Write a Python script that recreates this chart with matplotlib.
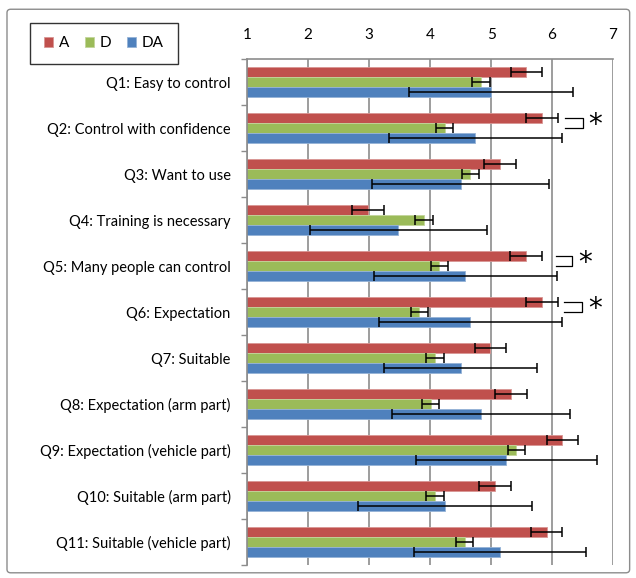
import numpy as np
import matplotlib.pyplot as plt
from matplotlib.patches import FancyBboxPatch

plt.rcParams['font.family'] = ['Lato', 'DejaVu Sans']

# Questionnaire items (top to bottom)
questions = [
    "Q1: Easy to control",
    "Q2: Control with confidence",
    "Q3: Want to use",
    "Q4: Training is necessary",
    "Q5: Many people can control",
    "Q6: Expectation",
    "Q7: Suitable",
    "Q8: Expectation (arm part)",
    "Q9: Expectation (vehicle part)",
    "Q10: Suitable (arm part)",
    "Q11: Suitable (vehicle part)",
]

# Mean scores
a_mean = [5.58, 5.83, 5.15, 2.98, 5.57, 5.83, 4.99, 5.33, 6.17, 5.07, 5.91]
d_mean = [4.84, 4.24, 4.66, 3.90, 4.15, 3.82, 4.08, 4.01, 5.41, 4.08, 4.57]
da_mean = [5.00, 4.74, 4.50, 3.48, 4.58, 4.66, 4.50, 4.84, 5.25, 4.24, 5.15]

# Error bar half-widths
a_err = [0.26, 0.26, 0.26, 0.26, 0.26, 0.26, 0.26, 0.26, 0.26, 0.26, 0.26]
d_err = [0.15, 0.14, 0.14, 0.14, 0.14, 0.14, 0.15, 0.14, 0.14, 0.15, 0.14]
da_err = [1.35, 1.42, 1.45, 1.45, 1.50, 1.50, 1.26, 1.46, 1.48, 1.43, 1.41]

# Significance brackets (A vs D)
sig_items = [1, 4, 5]
sig_left = [6.22, 6.06, 6.20]
sig_right = [6.50, 6.33, 6.49]

series = [("A", a_mean, a_err, "#C0504D", "#D99694"),
          ("D", d_mean, d_err, "#9BBB59", "#C3D69B"),
          ("DA", da_mean, da_err, "#4F81BD", "#95B3D7")]

fig = plt.figure(figsize=(6.36, 5.78), dpi=100)
ax = fig.add_axes([0.3888, 0.0225, 0.5750, 0.8754])

# outer chart border
fig.patches.append(FancyBboxPatch((0.011, 0.009), 0.979, 0.975,
                                  boxstyle="round,pad=0,rounding_size=0.006",
                                  transform=fig.transFigure, facecolor="none",
                                  edgecolor="#8C8C8C", linewidth=1.0))

y = np.arange(len(questions))
h = 0.218
handles = []
for i, (name, mean, err, col, edge) in enumerate(series):
    pos = y + (i - 1) * h
    b = ax.barh(pos, mean, height=h, color=col, edgecolor=edge, linewidth=0.6,
                label=name, zorder=2)
    ax.errorbar(mean, pos, xerr=err, fmt="none", ecolor="black", elinewidth=1.1,
                capsize=3.5, capthick=1.1, zorder=3)
    handles.append(b)

# significance brackets
for q, xl, xr in zip(sig_items, sig_left, sig_right):
    y1 = q - h
    y2 = q
    ax.plot([xl, xr, xr, xl], [y1, y1, y2, y2], color="black", lw=0.9,
            zorder=4, clip_on=False)
    ax.text(xr + 0.1, (y1 + y2) / 2 + 0.04, "*", fontsize=20, ha="left",
            va="center", family="DejaVu Sans", clip_on=False)

ax.set_xlim(1, 7)
ax.set_ylim(len(questions) - 0.5, -0.5)
ax.set_xticks(range(1, 8))
ax.xaxis.tick_top()
ax.tick_params(axis="x", length=0, pad=12, labelsize=11)
ax.grid(axis="x", color="#8C8C8C", linewidth=1.2, zorder=0)
ax.set_axisbelow(True)

ax.set_yticks(y)
ax.set_yticklabels(questions, fontsize=10.5)
ax.set_yticks(np.arange(-0.5, len(questions)), minor=True)
ax.tick_params(axis="y", which="major", length=0, pad=12)
ax.tick_params(axis="y", which="minor", length=4, color="#8C8C8C", width=1)

for s in ["bottom", "right"]:
    ax.spines[s].set_visible(False)
for s in ["left", "top"]:
    ax.spines[s].set_color("#8C8C8C")
    ax.spines[s].set_linewidth(1.2)

leg = fig.legend(handles=handles, loc="upper left", bbox_to_anchor=(0.035, 0.974),
                 ncol=3, frameon=True, fancybox=False, edgecolor="black",
                 fontsize=11, handlelength=0.6, handleheight=0.6,
                 handletextpad=0.4, columnspacing=1.0, borderpad=0.9)
leg.get_frame().set_linewidth(1.0)

fig.savefig("out.png", dpi=100)
